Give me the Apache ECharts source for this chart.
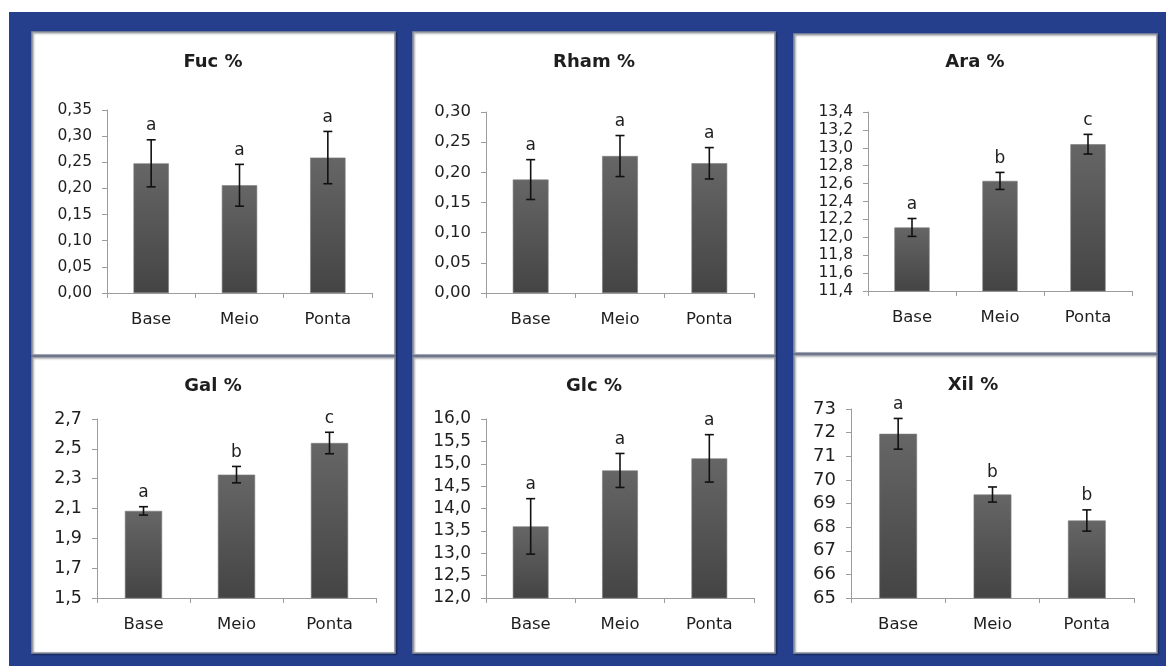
<!DOCTYPE html>
<html>
<head>
<meta charset="utf-8">
<script src="https://cdn.jsdelivr.net/npm/echarts@6/dist/echarts.min.js"></script>
<style>html,body{margin:0;padding:0;background:#fff;}#c{width:1166px;height:666px;}</style>
</head>
<body>
<div id="c"></div>
<script>
const categories = ['Base', 'Meio', 'Ponta'];

const fucTitle = 'Fuc %';
const fucValues = [0.248, 0.206, 0.259];
const fucErrors = [0.045, 0.040, 0.050];
const fucLetters = ['a', 'a', 'a'];

const rhamTitle = 'Rham %';
const rhamValues = [0.188, 0.227, 0.215];
const rhamErrors = [0.033, 0.034, 0.026];
const rhamLetters = ['a', 'a', 'a'];

const araTitle = 'Ara %';
const araValues = [12.11, 12.63, 13.04];
const araErrors = [0.10, 0.095, 0.11];
const araLetters = ['a', 'b', 'c'];

const galTitle = 'Gal %';
const galValues = [2.084, 2.327, 2.539];
const galErrors = [0.028, 0.055, 0.072];
const galLetters = ['a', 'b', 'c'];

const glcTitle = 'Glc %';
const glcValues = [13.60, 14.85, 15.12];
const glcErrors = [0.62, 0.38, 0.53];
const glcLetters = ['a', 'a', 'a'];

const xilTitle = 'Xil %';
const xilValues = [71.95, 69.38, 68.28];
const xilErrors = [0.65, 0.32, 0.45];
const xilLetters = ['a', 'b', 'b'];

// y-axis ranges / tick spacing / decimals
const fucAxis = [0, 0.35, 0.05, 2];
const rhamAxis = [0, 0.30, 0.05, 2];
const araAxis = [11.4, 13.4, 0.2, 1];
const galAxis = [1.5, 2.7, 0.2, 1];
const glcAxis = [12.0, 16.0, 0.5, 1];
const xilAxis = [65, 73, 1, 0];

const panels = [
  {title: fucTitle, values: fucValues, errors: fucErrors, letters: fucLetters, axis: fucAxis,
   grid: {left: 107, top: 110, width: 265, height: 183}, titlePos: [213, 62], labelSize: 15.5},
  {title: rhamTitle, values: rhamValues, errors: rhamErrors, letters: rhamLetters, axis: rhamAxis,
   grid: {left: 486, top: 112, width: 268, height: 181}, titlePos: [594, 62], labelSize: 16.5},
  {title: araTitle, values: araValues, errors: araErrors, letters: araLetters, axis: araAxis,
   grid: {left: 868, top: 112, width: 264, height: 179}, titlePos: [975, 62], labelSize: 15.5},
  {title: galTitle, values: galValues, errors: galErrors, letters: galLetters, axis: galAxis,
   grid: {left: 97, top: 419, width: 279, height: 179}, titlePos: [213, 386], labelSize: 17.5},
  {title: glcTitle, values: glcValues, errors: glcErrors, letters: glcLetters, axis: glcAxis,
   grid: {left: 486, top: 419, width: 268, height: 179}, titlePos: [594, 386], labelSize: 17},
  {title: xilTitle, values: xilValues, errors: xilErrors, letters: xilLetters, axis: xilAxis,
   grid: {left: 851, top: 409, width: 283, height: 189}, titlePos: [973, 385], labelSize: 18}
];

const FONT = 'DejaVu Sans';
const TXT = '#1e1e1e';
const AXIS = '#9c9c9c';

const grids = [], xAxes = [], yAxes = [], series = [], graphics = [];

// background + panel frames
graphics.push({type: 'rect', z: -20, shape: {x: 9, y: 12, width: 1157, height: 654}, style: {fill: '#253f8c'}});
const frames = [
  [32, 32, 363, 323], [413, 32, 362, 323], [794, 34, 363, 319],
  [32, 357, 363, 296], [413, 357, 362, 296], [794, 355, 363, 298]
];
frames.forEach(f => {
  graphics.push({type: 'rect', z: -15, shape: {x: f[0], y: f[1], width: f[2], height: f[3]},
    style: {fill: '#ffffff', stroke: '#8d92a2', lineWidth: 1.6,
      shadowBlur: 2, shadowColor: 'rgba(0,0,0,0.4)', shadowOffsetX: 1, shadowOffsetY: 1}});
});

panels.forEach((p, i) => {
  grids.push(Object.assign({containLabel: false}, p.grid));
  xAxes.push({
    type: 'category', gridIndex: i, data: categories,
    axisLine: {show: true, lineStyle: {color: AXIS, width: 1}},
    axisTick: {show: true, length: 5, lineStyle: {color: AXIS}, alignWithLabel: false},
    axisLabel: {color: TXT, fontSize: 16.5, fontFamily: FONT, margin: 18}
  });
  const dec = p.axis[3];
  yAxes.push({
    type: 'value', gridIndex: i, min: p.axis[0], max: p.axis[1], interval: p.axis[2],
    axisLine: {show: true, lineStyle: {color: AXIS, width: 1}},
    axisTick: {show: true, length: 5, lineStyle: {color: AXIS}},
    splitLine: {show: false},
    axisLabel: {color: TXT, fontSize: p.labelSize, fontFamily: FONT, margin: 15,
      formatter: v => v.toFixed(dec).replace('.', ',')}
  });
  series.push({
    type: 'bar', xAxisIndex: i, yAxisIndex: i, barWidth: '40%',
    data: p.values,
    itemStyle: {
      color: new echarts.graphic.LinearGradient(0, 0, 0, 1, [
        {offset: 0, color: '#666666'}, {offset: 1, color: '#444444'}
      ]),
      borderColor: '#7a7a7a', borderWidth: 0.6
    },
    silent: true
  });
  const letters = p.letters;
  series.push({
    type: 'custom', xAxisIndex: i, yAxisIndex: i, z: 5, silent: true,
    data: p.values.map((v, k) => [k, v, p.errors[k]]),
    renderItem: function (params, api) {
      const k = api.value(0), m = api.value(1), e = api.value(2);
      const t = api.coord([k, m + e]);
      const b = api.coord([k, m - e]);
      const cw = 4.5;
      return {
        type: 'group',
        children: [
          {type: 'line', shape: {x1: t[0], y1: t[1], x2: b[0], y2: b[1]}, style: {stroke: '#111', lineWidth: 1.6}},
          {type: 'line', shape: {x1: t[0] - cw, y1: t[1], x2: t[0] + cw, y2: t[1]}, style: {stroke: '#111', lineWidth: 1.6}},
          {type: 'line', shape: {x1: b[0] - cw, y1: b[1], x2: b[0] + cw, y2: b[1]}, style: {stroke: '#111', lineWidth: 1.6}},
          {type: 'text', x: t[0], y: t[1] - 14,
            style: {text: letters[params.dataIndex], align: 'center', verticalAlign: 'middle',
              fontSize: 17, fontFamily: FONT, fill: TXT}}
        ]
      };
    }
  });
  graphics.push({type: 'text', z: 10, x: p.titlePos[0], y: p.titlePos[1],
    style: {text: p.title, align: 'center', verticalAlign: 'middle',
      font: 'bold 18px "DejaVu Sans"', fill: TXT}});
});

const chart = echarts.init(document.getElementById('c'), null, {renderer: 'canvas'});
chart.setOption({
  backgroundColor: '#ffffff',
  animation: false,
  grid: grids, xAxis: xAxes, yAxis: yAxes, series: series,
  graphic: graphics
});
</script>
</body>
</html>
